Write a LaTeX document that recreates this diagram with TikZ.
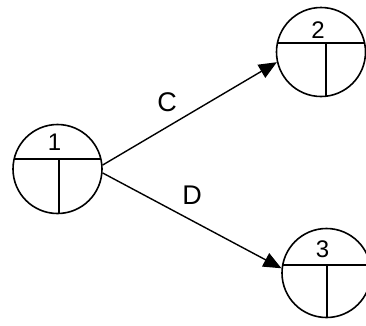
\documentclass[tikz,border=0pt]{standalone}
\usepackage{fontspec}
\setmainfont{Liberation Sans}
\usetikzlibrary{arrows.meta}
\tikzset{
  evcircle/.style={draw, circle, line width=1.6pt, minimum size=89pt, inner sep=0pt},
  digit/.style={font=\fontsize{24}{24}\selectfont, inner sep=0pt},
  actlabel/.style={font=\fontsize{27}{27}\selectfont, inner sep=0pt},
  act/.style={line width=1.4pt, -{Triangle[length=18pt,width=15pt]}},
  split/.style={line width=1.6pt}
}
\begin{document}
\begin{tikzpicture}[x=1pt,y=-1pt]
\useasboundingbox (0,0) rectangle (366,325);
% nodes
\node[evcircle] (n1) at (57.5,169) {};
\node[evcircle] (n2) at (321,52) {};
\node[evcircle] (n3) at (326.5,273) {};
% dividers
\draw[split] ([shift={(-43.4,-10)}]n1.center) -- ([shift={(43.4,-10)}]n1.center);
\draw[split] ([shift={(1.5,-10)}]n1.center) -- ([shift={(1.5,44.5)}]n1.center);
\draw[split] ([shift={(-43.4,-9)}]n2.center) -- ([shift={(43.4,-9)}]n2.center);
\draw[split] ([shift={(5,-9)}]n2.center) -- ([shift={(5,44.2)}]n2.center);
\draw[split] ([shift={(-43.6,-8)}]n3.center) -- ([shift={(43.6,-8)}]n3.center);
\draw[split] ([shift={(0.5,-8)}]n3.center) -- ([shift={(0.5,44.5)}]n3.center);
% numbers
\node[digit] (d1) at ([shift={(-3,-27)}]n1.center) {1};
\node[digit] (d2) at ([shift={(-3,-22)}]n2.center) {2};
\node[digit] (d3) at ([shift={(-4,-24)}]n3.center) {3};
% activities
\draw[act] (n1.5) -- (n2.193);
\draw[act] (n1.-5) -- (n3.174);
\node[actlabel] (c) at (167,102) {C};
\node[actlabel] (d) at (192,195) {D};
\end{tikzpicture}
\end{document}
